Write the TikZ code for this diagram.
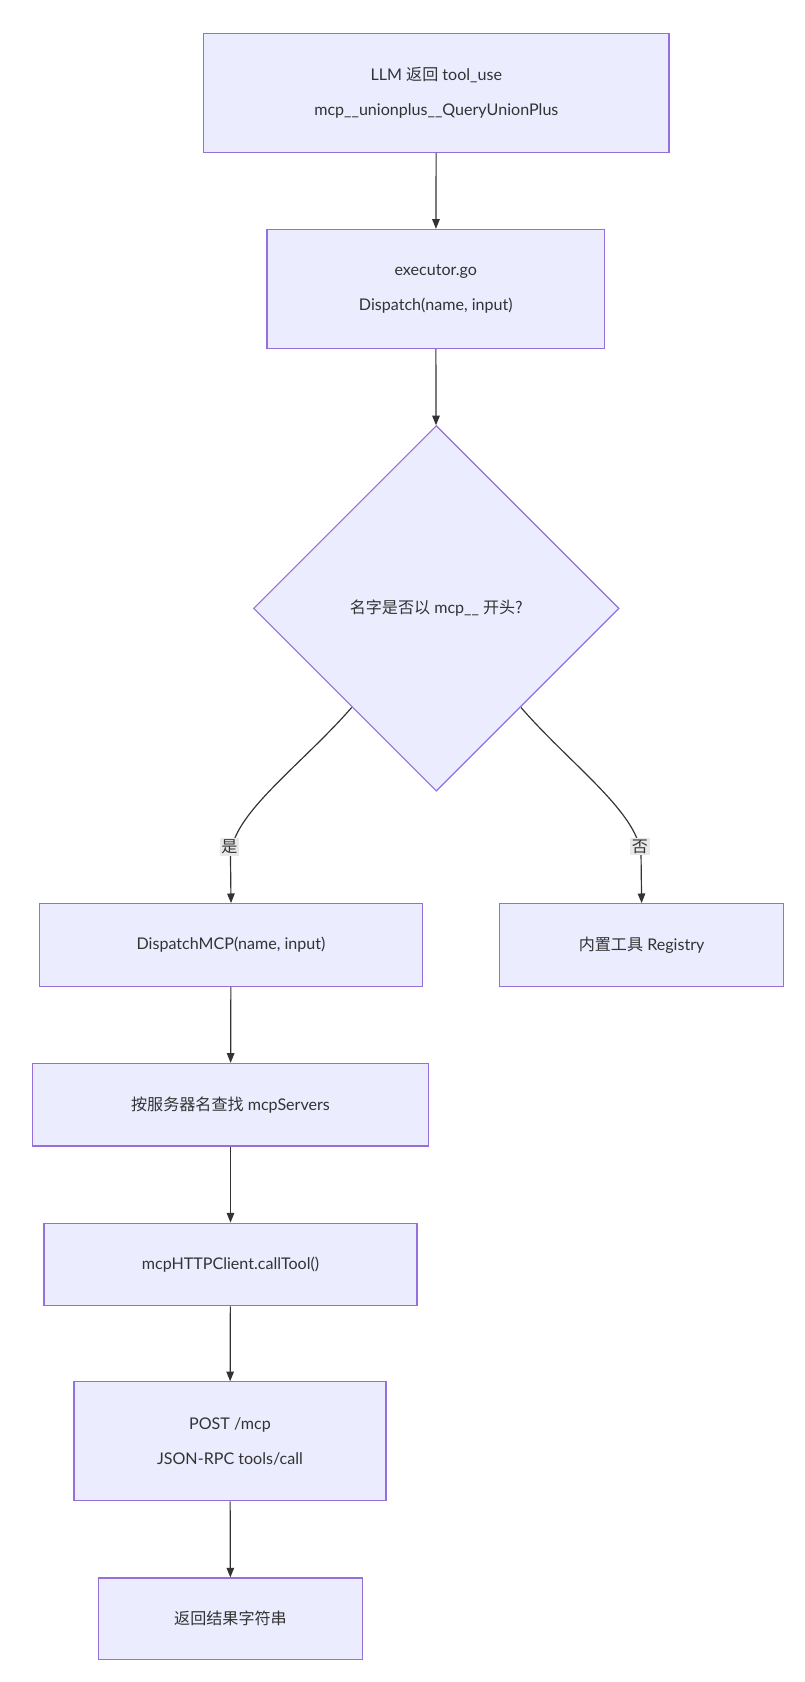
\documentclass[tikz,border=0pt]{standalone}
\usepackage{fontspec}
\setmainfont{Lato}
\newfontfamily\cjk{Noto Sans CJK SC}
\newcommand{\zh}[1]{{\cjk #1}}
\usetikzlibrary{shapes.geometric,arrows.meta}
\definecolor{nfill}{HTML}{ECECFF}
\definecolor{nline}{HTML}{9370DB}
\definecolor{eline}{HTML}{333333}
\definecolor{lbg}{HTML}{E8E8E8}
\begin{document}
\begin{tikzpicture}[x=1pt,y=-1pt,
  box/.style={draw=nline,fill=nfill,line width=1.1pt,inner sep=0pt,align=center,font=\fontsize{15}{33}\selectfont,text=eline},
  arr/.style={draw=eline,line width=1.1pt,-{Triangle[length=9pt,width=7pt]}},
  lab/.style={fill=lbg,inner sep=1.5pt,font=\fontsize{15}{18}\selectfont,text=eline}]
\useasboundingbox (0,0) rectangle (750,1569);
\node[box,minimum width=434pt,minimum height=111pt] (a) at (407,86.5) {LLM \zh{返回} tool\_use\\mcp\_\_unionplus\_\_QueryUnionPlus};
\node[box,minimum width=315pt,minimum height=111pt] (b) at (406.5,269.5) {executor.go\\Dispatch(name, input)};
\node[box,diamond,minimum width=341pt,minimum height=341pt,aspect=1] (c) at (407,567.5) {\zh{名字是否以} mcp\_\_ \zh{开头?}};
\node[box,minimum width=357pt,minimum height=77pt] (d) at (215.5,881.5) {DispatchMCP(name, input)};
\node[box,minimum width=265pt,minimum height=77pt] (e) at (598.5,881.5) {\zh{内置工具} Registry};
\node[box,minimum width=370pt,minimum height=77pt] (f) at (215,1030.5) {\zh{按服务器名查找} mcpServers};
\node[box,minimum width=348pt,minimum height=77pt] (g) at (215,1179.5) {mcpHTTPClient.callTool()};
\node[box,minimum width=291pt,minimum height=111pt] (h) at (214.5,1344.5) {POST /mcp\\JSON-RPC tools/call};
\node[box,minimum width=246pt,minimum height=76pt] (i) at (215,1510) {\zh{返回结果字符串}};
\draw[arr] (a) -- (b);
\draw[arr] (b) -- (c);
\coordinate (cl) at (328,660);
\coordinate (cr) at (486,660);
\draw[arr] (cl) .. controls (280,715) and (215,760) .. (215,800) -- (d.north);
\draw[arr] (cr) .. controls (534,715) and (598,760) .. (598,800) -- (e.north);
\node[lab] (ly) at (214,790) {\zh{是}};
\node[lab] (ln) at (597,790) {\zh{否}};
\draw[arr] (d) -- (f);
\draw[arr] (f) -- (g);
\draw[arr] (g) -- (h);
\draw[arr] (h) -- (i);
\end{tikzpicture}
\end{document}
